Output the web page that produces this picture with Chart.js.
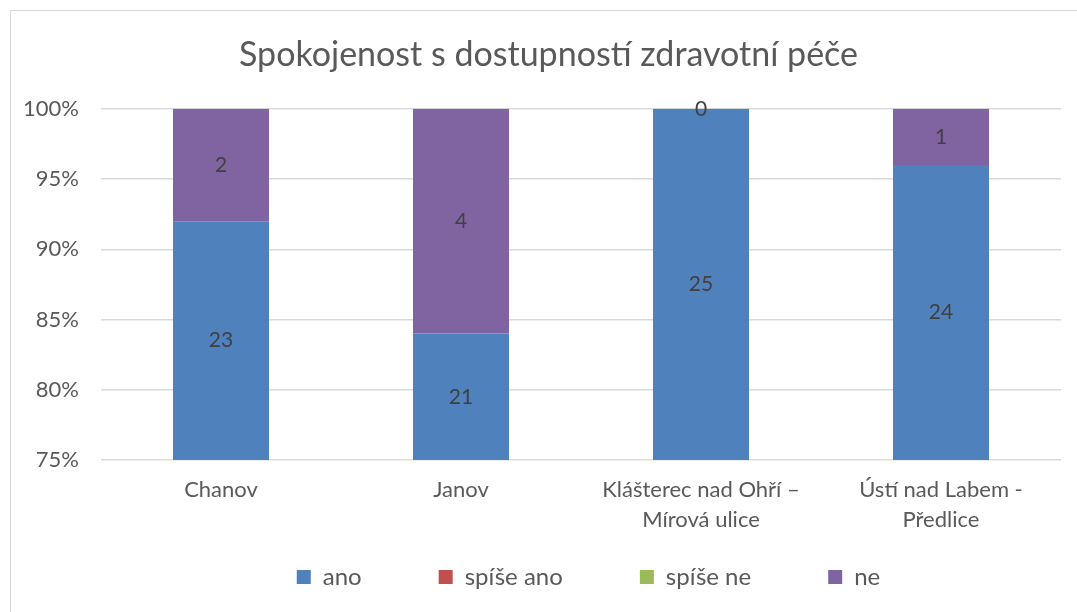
<!DOCTYPE html>
<html lang="cs">
<head>
  <meta charset="UTF-8">
  <title>Spokojenost s dostupností zdravotní péče</title>
  <script src="https://cdn.jsdelivr.net/npm/chart.js"></script>
  <style>
    body { margin: 0; background: #fff; }
    #wrap { position: relative; width: 1077px; height: 612px; overflow: hidden; }
    #frame { position: absolute; left: 10px; top: 10px; width: 1080px; height: 620px; border: 1px solid #d9d9d9; box-sizing: border-box; }
    #c { position: absolute; left: 0; top: 0; }
  </style>
</head>
<body>
  <div id="wrap">
    <div id="frame"></div>
    <canvas id="c" width="1077" height="612"></canvas>
  </div>

  <script>
    // categories and answer counts
    const places = ['Chanov', 'Janov', ['Klášterec nad Ohří –', 'Mírová ulice'], ['Ústí nad Labem -', 'Předlice']];
    const seriesNames = ['ano', 'spíše ano', 'spíše ne', 'ne'];
    const ano = [23, 21, 25, 24];
    const spiseAno = [null, null, null, null];
    const spiseNe = [null, null, null, null];
    const ne = [2, 4, 0, 1];
    const colors = ['#4f81bd', '#c0504d', '#9bbb59', '#8064a2'];
    const yTicks = [0.75, 0.80, 0.85, 0.90, 0.95, 1.00];

    const counts = [ano, spiseAno, spiseNe, ne];
    const totals = places.map((p, j) => counts.reduce((s, arr) => s + (arr[j] || 0), 0));

    const FONT = 'Lato, "Open Sans", sans-serif';
    const GREY = '#595959';
    const LEGEND_PAD = 77;

    // value labels in the middle of the visible part of each bar segment
    const segLabels = {
      id: 'segLabels',
      afterDatasetsDraw(chart) {
        const ctx = chart.ctx;
        const area = chart.chartArea;
        ctx.save();
        ctx.font = '21px ' + FONT;
        ctx.fillStyle = '#404040';
        ctx.textAlign = 'center';
        ctx.textBaseline = 'middle';
        chart.data.datasets.forEach((ds, i) => {
          const meta = chart.getDatasetMeta(i);
          meta.data.forEach((bar, j) => {
            const v = counts[i][j];
            if (v === null || v === undefined) return;
            const p = bar.getProps(['x', 'y', 'base'], true);
            let top = Math.max(Math.min(p.y, p.base), area.top);
            let bot = Math.min(Math.max(p.y, p.base), area.bottom);
            ctx.fillText(String(v), p.x, (top + bot) / 2);
          });
        });
        ctx.restore();
      }
    };

    // nudge title and legend to where the original has them
    const placeBoxes = {
      id: 'placeBoxes',
      afterLayout(chart) {
        const lg = chart.legend;
        const h = lg.bottom - lg.top;
        lg.top = 577 - LEGEND_PAD - 12;
        lg.bottom = lg.top + h;
        lg.left += 58;
        lg.right += 58;
        const t = chart.titleBlock;
        t.left += 18;
        t.right += 18;
        t.top -= 2;
        t.bottom -= 2;
      }
    };

    new Chart(document.getElementById('c'), {
      type: 'bar',
      data: {
        labels: places,
        datasets: seriesNames.map((name, i) => ({
          label: name,
          data: counts[i].map((v, j) => v === null ? null : v / totals[j]),
          backgroundColor: colors[i],
          borderWidth: 0,
          categoryPercentage: 1,
          barPercentage: 0.4
        }))
      },
      options: {
        responsive: false,
        animation: false,
        layout: { padding: { left: 0, right: 16, top: 14, bottom: -44 } },
        scales: {
          x: {
            stacked: true,
            afterFit: (scale) => { scale.height = 85; },
            grid: { display: false, drawTicks: false },
            border: { display: false },
            ticks: { color: GREY, font: { family: FONT, size: 22, lineHeight: 1.36 }, padding: 15, maxRotation: 0, autoSkip: false }
          },
          y: {
            stacked: true,
            min: 0.75,
            max: 1,
            afterBuildTicks: (scale) => { scale.ticks = yTicks.map(v => ({ value: v })); },
            afterFit: (scale) => { scale.width = 101; },
            grid: { color: '#d9d9d9', lineWidth: 1.5, drawTicks: false },
            border: { display: false },
            ticks: {
              color: GREY,
              padding: 22,
              font: { family: FONT, size: 22 },
              callback: (v) => Math.round(v * 100) + '%'
            }
          }
        },
        plugins: {
          title: {
            display: true,
            text: 'Spokojenost s dostupností zdravotní péče',
            color: GREY,
            font: { family: FONT, size: 34, weight: 'normal' },
            padding: { top: 23, bottom: 31 }
          },
          legend: {
            position: 'bottom',
            labels: {
              color: GREY,
              font: { family: FONT, size: 24 },
              boxWidth: 14,
              boxHeight: 14,
              padding: LEGEND_PAD
            }
          },
          tooltip: { enabled: false }
        }
      },
      plugins: [segLabels, placeBoxes]
    });
  </script>
</body>
</html>
